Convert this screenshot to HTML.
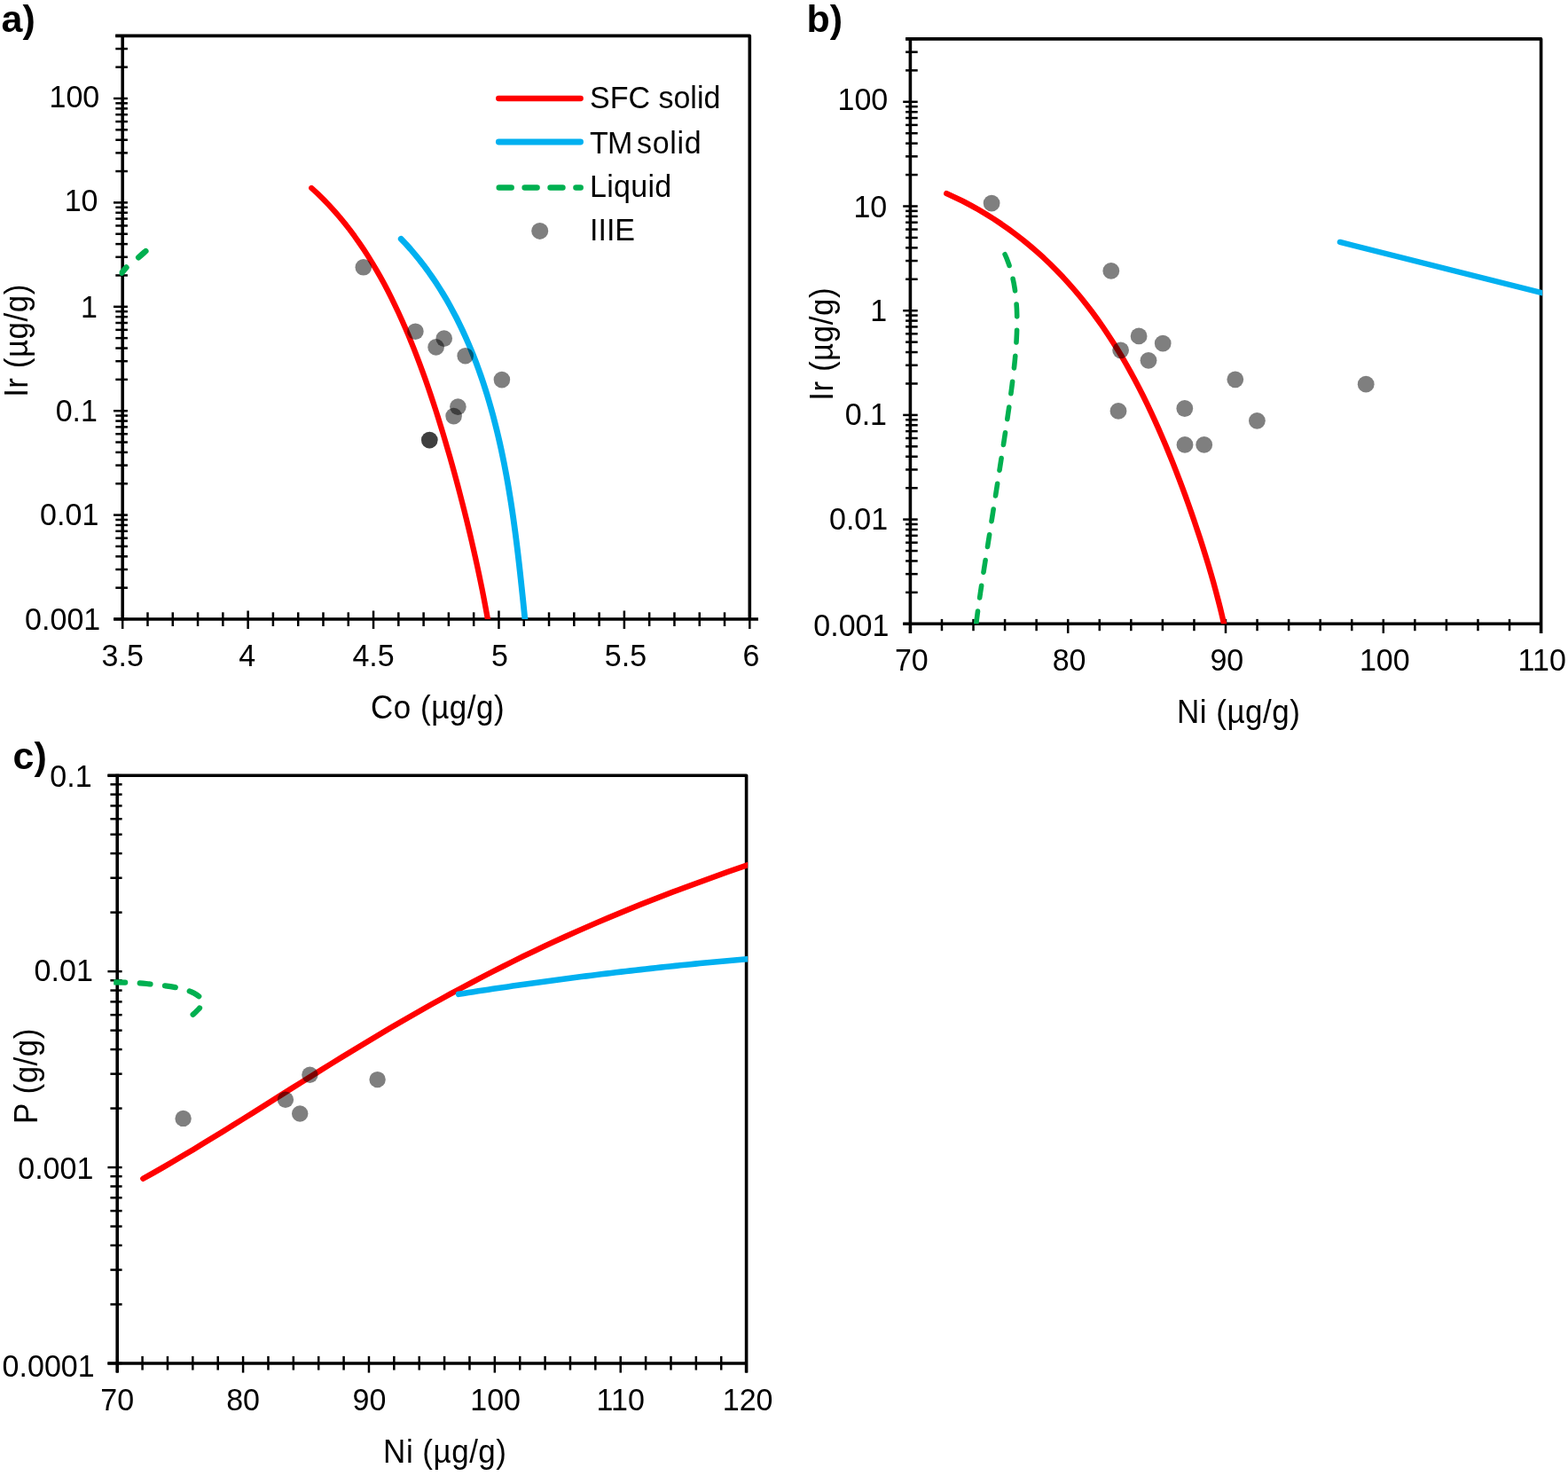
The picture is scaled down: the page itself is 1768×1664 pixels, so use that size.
<!DOCTYPE html><html><head><meta charset="utf-8"><title>Figure</title><style>html,body{margin:0;padding:0;background:#fff;}svg{display:block;}</style></head><body>
<svg width="1768" height="1664" viewBox="0 0 1768 1664" font-family='"Liberation Sans", sans-serif' fill="#000">
<rect width="1768" height="1664" fill="#fff"/>
<defs><clipPath id="ca"><rect x="134.6" y="40.4" width="712.1" height="657.6"/></clipPath><clipPath id="cb"><rect x="1024.9" y="43.9" width="714.2" height="659.4"/></clipPath><clipPath id="cc"><rect x="128.2" y="874.2" width="714.9" height="662.8"/></clipPath></defs>
<text x="1.5" y="35.5" font-size="43" text-anchor="start" font-weight="bold">a)</text>
<text x="909.5" y="36" font-size="43" text-anchor="start" font-weight="bold">b)</text>
<text x="14.5" y="866.5" font-size="43" text-anchor="start" font-weight="bold">c)</text>
<path d="M130.2 40.4 H845.3 V698" fill="none" stroke="#000" stroke-width="3.6" stroke-linejoin="round"/>
<line x1="138.2" y1="38.9" x2="138.2" y2="699.5" stroke="#000" stroke-width="3.6"/>
<line x1="128.2" y1="698" x2="854.9" y2="698" stroke="#000" stroke-width="3.6"/>
<line x1="128" y1="698" x2="143.9" y2="698" stroke="#000" stroke-width="2.5"/>
<line x1="130.3" y1="662.66" x2="143.9" y2="662.66" stroke="#000" stroke-width="2.5"/>
<line x1="130.3" y1="641.99" x2="143.9" y2="641.99" stroke="#000" stroke-width="2.5"/>
<line x1="130.3" y1="627.32" x2="143.9" y2="627.32" stroke="#000" stroke-width="2.5"/>
<line x1="130.3" y1="615.94" x2="143.9" y2="615.94" stroke="#000" stroke-width="2.5"/>
<line x1="130.3" y1="606.65" x2="143.9" y2="606.65" stroke="#000" stroke-width="2.5"/>
<line x1="130.3" y1="598.79" x2="143.9" y2="598.79" stroke="#000" stroke-width="2.5"/>
<line x1="130.3" y1="591.98" x2="143.9" y2="591.98" stroke="#000" stroke-width="2.5"/>
<line x1="130.3" y1="585.97" x2="143.9" y2="585.97" stroke="#000" stroke-width="2.5"/>
<line x1="128" y1="580.6" x2="143.9" y2="580.6" stroke="#000" stroke-width="2.5"/>
<line x1="130.3" y1="545.26" x2="143.9" y2="545.26" stroke="#000" stroke-width="2.5"/>
<line x1="130.3" y1="524.59" x2="143.9" y2="524.59" stroke="#000" stroke-width="2.5"/>
<line x1="130.3" y1="509.92" x2="143.9" y2="509.92" stroke="#000" stroke-width="2.5"/>
<line x1="130.3" y1="498.54" x2="143.9" y2="498.54" stroke="#000" stroke-width="2.5"/>
<line x1="130.3" y1="489.25" x2="143.9" y2="489.25" stroke="#000" stroke-width="2.5"/>
<line x1="130.3" y1="481.39" x2="143.9" y2="481.39" stroke="#000" stroke-width="2.5"/>
<line x1="130.3" y1="474.58" x2="143.9" y2="474.58" stroke="#000" stroke-width="2.5"/>
<line x1="130.3" y1="468.57" x2="143.9" y2="468.57" stroke="#000" stroke-width="2.5"/>
<line x1="128" y1="463.2" x2="143.9" y2="463.2" stroke="#000" stroke-width="2.5"/>
<line x1="130.3" y1="427.86" x2="143.9" y2="427.86" stroke="#000" stroke-width="2.5"/>
<line x1="130.3" y1="407.19" x2="143.9" y2="407.19" stroke="#000" stroke-width="2.5"/>
<line x1="130.3" y1="392.52" x2="143.9" y2="392.52" stroke="#000" stroke-width="2.5"/>
<line x1="130.3" y1="381.14" x2="143.9" y2="381.14" stroke="#000" stroke-width="2.5"/>
<line x1="130.3" y1="371.85" x2="143.9" y2="371.85" stroke="#000" stroke-width="2.5"/>
<line x1="130.3" y1="363.99" x2="143.9" y2="363.99" stroke="#000" stroke-width="2.5"/>
<line x1="130.3" y1="357.18" x2="143.9" y2="357.18" stroke="#000" stroke-width="2.5"/>
<line x1="130.3" y1="351.17" x2="143.9" y2="351.17" stroke="#000" stroke-width="2.5"/>
<line x1="128" y1="345.8" x2="143.9" y2="345.8" stroke="#000" stroke-width="2.5"/>
<line x1="130.3" y1="310.46" x2="143.9" y2="310.46" stroke="#000" stroke-width="2.5"/>
<line x1="130.3" y1="289.79" x2="143.9" y2="289.79" stroke="#000" stroke-width="2.5"/>
<line x1="130.3" y1="275.12" x2="143.9" y2="275.12" stroke="#000" stroke-width="2.5"/>
<line x1="130.3" y1="263.74" x2="143.9" y2="263.74" stroke="#000" stroke-width="2.5"/>
<line x1="130.3" y1="254.45" x2="143.9" y2="254.45" stroke="#000" stroke-width="2.5"/>
<line x1="130.3" y1="246.59" x2="143.9" y2="246.59" stroke="#000" stroke-width="2.5"/>
<line x1="130.3" y1="239.78" x2="143.9" y2="239.78" stroke="#000" stroke-width="2.5"/>
<line x1="130.3" y1="233.77" x2="143.9" y2="233.77" stroke="#000" stroke-width="2.5"/>
<line x1="128" y1="228.4" x2="143.9" y2="228.4" stroke="#000" stroke-width="2.5"/>
<line x1="130.3" y1="193.06" x2="143.9" y2="193.06" stroke="#000" stroke-width="2.5"/>
<line x1="130.3" y1="172.39" x2="143.9" y2="172.39" stroke="#000" stroke-width="2.5"/>
<line x1="130.3" y1="157.72" x2="143.9" y2="157.72" stroke="#000" stroke-width="2.5"/>
<line x1="130.3" y1="146.34" x2="143.9" y2="146.34" stroke="#000" stroke-width="2.5"/>
<line x1="130.3" y1="137.05" x2="143.9" y2="137.05" stroke="#000" stroke-width="2.5"/>
<line x1="130.3" y1="129.19" x2="143.9" y2="129.19" stroke="#000" stroke-width="2.5"/>
<line x1="130.3" y1="122.38" x2="143.9" y2="122.38" stroke="#000" stroke-width="2.5"/>
<line x1="130.3" y1="116.37" x2="143.9" y2="116.37" stroke="#000" stroke-width="2.5"/>
<line x1="128" y1="111" x2="143.9" y2="111" stroke="#000" stroke-width="2.5"/>
<line x1="130.3" y1="75.66" x2="143.9" y2="75.66" stroke="#000" stroke-width="2.5"/>
<line x1="130.3" y1="54.99" x2="143.9" y2="54.99" stroke="#000" stroke-width="2.5"/>
<line x1="130.3" y1="40.32" x2="143.9" y2="40.32" stroke="#000" stroke-width="2.5"/>
<text transform="translate(112.2 120.8) scale(1 1.035)" font-size="34" text-anchor="end">100</text>
<text transform="translate(110.5 237.9) scale(1 1.035)" font-size="34" text-anchor="end">10</text>
<text transform="translate(109.9 357.9) scale(1 1.035)" font-size="34" text-anchor="end">1</text>
<text transform="translate(109.9 474.8) scale(1 1.035)" font-size="34" text-anchor="end">0.1</text>
<text transform="translate(111.3 592) scale(1 1.035)" font-size="34" text-anchor="end">0.01</text>
<text transform="translate(113.2 709.75) scale(1 1.035)" font-size="34" text-anchor="end">0.001</text>
<line x1="138.2" y1="688.5" x2="138.2" y2="709" stroke="#000" stroke-width="2.5"/>
<line x1="279.62" y1="688.5" x2="279.62" y2="709" stroke="#000" stroke-width="2.5"/>
<line x1="421.04" y1="688.5" x2="421.04" y2="709" stroke="#000" stroke-width="2.5"/>
<line x1="562.46" y1="688.5" x2="562.46" y2="709" stroke="#000" stroke-width="2.5"/>
<line x1="703.88" y1="688.5" x2="703.88" y2="709" stroke="#000" stroke-width="2.5"/>
<line x1="845.3" y1="688.5" x2="845.3" y2="709" stroke="#000" stroke-width="2.5"/>
<line x1="166.48" y1="690.3" x2="166.48" y2="706" stroke="#000" stroke-width="2.5"/>
<line x1="194.77" y1="690.3" x2="194.77" y2="706" stroke="#000" stroke-width="2.5"/>
<line x1="223.05" y1="690.3" x2="223.05" y2="706" stroke="#000" stroke-width="2.5"/>
<line x1="251.34" y1="690.3" x2="251.34" y2="706" stroke="#000" stroke-width="2.5"/>
<line x1="307.9" y1="690.3" x2="307.9" y2="706" stroke="#000" stroke-width="2.5"/>
<line x1="336.19" y1="690.3" x2="336.19" y2="706" stroke="#000" stroke-width="2.5"/>
<line x1="364.47" y1="690.3" x2="364.47" y2="706" stroke="#000" stroke-width="2.5"/>
<line x1="392.76" y1="690.3" x2="392.76" y2="706" stroke="#000" stroke-width="2.5"/>
<line x1="449.32" y1="690.3" x2="449.32" y2="706" stroke="#000" stroke-width="2.5"/>
<line x1="477.61" y1="690.3" x2="477.61" y2="706" stroke="#000" stroke-width="2.5"/>
<line x1="505.89" y1="690.3" x2="505.89" y2="706" stroke="#000" stroke-width="2.5"/>
<line x1="534.18" y1="690.3" x2="534.18" y2="706" stroke="#000" stroke-width="2.5"/>
<line x1="590.74" y1="690.3" x2="590.74" y2="706" stroke="#000" stroke-width="2.5"/>
<line x1="619.03" y1="690.3" x2="619.03" y2="706" stroke="#000" stroke-width="2.5"/>
<line x1="647.31" y1="690.3" x2="647.31" y2="706" stroke="#000" stroke-width="2.5"/>
<line x1="675.6" y1="690.3" x2="675.6" y2="706" stroke="#000" stroke-width="2.5"/>
<line x1="732.16" y1="690.3" x2="732.16" y2="706" stroke="#000" stroke-width="2.5"/>
<line x1="760.45" y1="690.3" x2="760.45" y2="706" stroke="#000" stroke-width="2.5"/>
<line x1="788.73" y1="690.3" x2="788.73" y2="706" stroke="#000" stroke-width="2.5"/>
<line x1="817.02" y1="690.3" x2="817.02" y2="706" stroke="#000" stroke-width="2.5"/>
<text transform="translate(138.2 751) scale(1 1.035)" font-size="34" text-anchor="middle">3.5</text>
<text transform="translate(278.72 751) scale(1 1.035)" font-size="34" text-anchor="middle">4</text>
<text transform="translate(421.04 751) scale(1 1.035)" font-size="34" text-anchor="middle">4.5</text>
<text transform="translate(563.36 751) scale(1 1.035)" font-size="34" text-anchor="middle">5</text>
<text transform="translate(705.48 751) scale(1 1.035)" font-size="34" text-anchor="middle">5.5</text>
<text transform="translate(846.9 751) scale(1 1.035)" font-size="34" text-anchor="middle">6</text>
<text transform="translate(493.6 809.8) scale(1 1.035)" font-size="35" text-anchor="middle" letter-spacing="0.5">Co (µg/g)</text>
<text x="0" y="0" font-size="35" text-anchor="middle" letter-spacing="0.5" transform="translate(30.8 384.0) rotate(-90) scale(1 1.035)">Ir (µg/g)</text>
<g clip-path="url(#ca)">
<path d="M351.27 211.97 L358.09 218.28 L364.68 224.74 L371.05 231.36 L377.21 238.11 L383.17 245.01 L388.93 252.04 L394.51 259.18 L399.9 266.45 L405.12 273.83 L410.18 281.31 L415.08 288.89 L419.82 296.57 L424.42 304.33 L428.88 312.17 L433.21 320.1 L437.41 328.09 L441.48 336.16 L445.45 344.29 L449.3 352.47 L453.04 360.71 L456.69 369.01 L460.24 377.35 L463.7 385.73 L467.07 394.15 L470.36 402.61 L473.57 411.11 L476.7 419.63 L479.77 428.18 L482.76 436.76 L485.69 445.36 L488.57 453.98 L491.38 462.62 L494.13 471.27 L496.84 479.94 L499.49 488.63 L502.09 497.32 L504.64 506.03 L507.15 514.74 L509.62 523.46 L512.04 532.2 L514.42 540.94 L516.76 549.68 L519.06 558.44 L521.32 567.2 L523.55 575.97 L525.73 584.74 L527.87 593.53 L529.98 602.32 L532.04 611.13 L534.07 619.94 L536.05 628.77 L538 637.61 L539.9 646.47 L541.75 655.35 L543.56 664.24 L545.32 673.16 L547.03 682.1 L548.69 691.07 L550.3 700.07" fill="none" stroke="#FF0000" stroke-width="6.3" stroke-linecap="round" stroke-linejoin="round"/>
<path d="M452.22 269.31 L457.62 275.03 L462.86 280.88 L467.95 286.84 L472.9 292.91 L477.7 299.08 L482.36 305.36 L486.87 311.74 L491.25 318.2 L495.5 324.75 L499.61 331.39 L503.6 338.11 L507.45 344.9 L511.18 351.76 L514.79 358.69 L518.27 365.68 L521.64 372.73 L524.9 379.84 L528.04 387.01 L531.07 394.22 L534 401.48 L536.82 408.78 L539.53 416.12 L542.15 423.51 L544.67 430.92 L547.1 438.37 L549.43 445.85 L551.67 453.36 L553.83 460.89 L555.91 468.45 L557.9 476.03 L559.81 483.63 L561.64 491.24 L563.41 498.88 L565.1 506.52 L566.72 514.18 L568.28 521.85 L569.77 529.53 L571.2 537.22 L572.58 544.92 L573.9 552.63 L575.16 560.34 L576.38 568.06 L577.55 575.78 L578.68 583.51 L579.76 591.25 L580.81 598.98 L581.82 606.73 L582.79 614.47 L583.74 622.22 L584.65 629.98 L585.54 637.74 L586.41 645.5 L587.26 653.27 L588.09 661.05 L588.91 668.83 L589.72 676.62 L590.51 684.43 L591.3 692.24 L592.09 700.06" fill="none" stroke="#00B0F0" stroke-width="6.8" stroke-linecap="round" stroke-linejoin="round"/>
<path d="M164.3 283.1 C162.95 284.28 159.08 287.88 156.2 290.2 C153.32 292.52 149.7 294.65 147 297 C144.3 299.35 142.5 301.47 140 304.3 C137.5 307.13 133.33 312.38 132 314" fill="none" stroke="#00B050" stroke-width="6.5" stroke-linecap="round" stroke-linejoin="round" stroke-dasharray="10.8 18 8 60"/>
</g>
<circle cx="409.8" cy="301.3" r="9.3" fill="#000" fill-opacity="0.5"/>
<circle cx="468.4" cy="373.7" r="9.3" fill="#000" fill-opacity="0.5"/>
<circle cx="500.7" cy="381.6" r="9.3" fill="#000" fill-opacity="0.5"/>
<circle cx="491.6" cy="391.4" r="9.3" fill="#000" fill-opacity="0.5"/>
<circle cx="524.7" cy="401.2" r="9.3" fill="#000" fill-opacity="0.5"/>
<circle cx="565.9" cy="428.1" r="9.3" fill="#000" fill-opacity="0.5"/>
<circle cx="516.4" cy="458.6" r="9.3" fill="#000" fill-opacity="0.5"/>
<circle cx="511.6" cy="469.1" r="9.3" fill="#000" fill-opacity="0.5"/>
<circle cx="484.3" cy="496.1" r="9.3" fill="#000" fill-opacity="0.5"/>
<circle cx="484.3" cy="496.1" r="9.3" fill="#000" fill-opacity="0.5"/>
<line x1="562.2" y1="111" x2="654.7" y2="111" stroke="#FF0000" stroke-width="6.3" stroke-linecap="round"/>
<line x1="562.4" y1="160" x2="654.5" y2="160" stroke="#00B0F0" stroke-width="6.9" stroke-linecap="round"/>
<line x1="562.75" y1="211.5" x2="654.65" y2="211.5" stroke="#00B050" stroke-width="6.5" stroke-linecap="round" stroke-dasharray="13.9 15"/>
<circle cx="608.7" cy="260.4" r="9.5" fill="#000" fill-opacity="0.5"/>
<text transform="translate(665 122.4) scale(1 1.035)" font-size="34" text-anchor="start">SFC solid</text>
<text transform="translate(665 172.5) scale(1 1.035)" font-size="34" text-anchor="start" letter-spacing="-0.8">TM</text>
<text transform="translate(718 172.5) scale(1 1.035)" font-size="34" text-anchor="start" letter-spacing="0.7">solid</text>
<text transform="translate(665 221.7) scale(1 1.035)" font-size="34" text-anchor="start" letter-spacing="0.3">Liquid</text>
<text transform="translate(665 270.9) scale(1 1.035)" font-size="34" text-anchor="start">IIIE</text>
<path d="M1021.1 43.9 H1737.6 V713.9" fill="none" stroke="#000" stroke-width="3.6" stroke-linejoin="round"/>
<line x1="1026.4" y1="42.4" x2="1026.4" y2="713.9" stroke="#000" stroke-width="3.6"/>
<line x1="1018.2" y1="703.3" x2="1737.6" y2="703.3" stroke="#000" stroke-width="3.6"/>
<line x1="1018.2" y1="703.3" x2="1034.7" y2="703.3" stroke="#000" stroke-width="2.5"/>
<line x1="1021.1" y1="667.87" x2="1034.7" y2="667.87" stroke="#000" stroke-width="2.5"/>
<line x1="1021.1" y1="647.14" x2="1034.7" y2="647.14" stroke="#000" stroke-width="2.5"/>
<line x1="1021.1" y1="632.44" x2="1034.7" y2="632.44" stroke="#000" stroke-width="2.5"/>
<line x1="1021.1" y1="621.03" x2="1034.7" y2="621.03" stroke="#000" stroke-width="2.5"/>
<line x1="1021.1" y1="611.71" x2="1034.7" y2="611.71" stroke="#000" stroke-width="2.5"/>
<line x1="1021.1" y1="603.83" x2="1034.7" y2="603.83" stroke="#000" stroke-width="2.5"/>
<line x1="1021.1" y1="597.01" x2="1034.7" y2="597.01" stroke="#000" stroke-width="2.5"/>
<line x1="1021.1" y1="590.99" x2="1034.7" y2="590.99" stroke="#000" stroke-width="2.5"/>
<line x1="1018.2" y1="585.6" x2="1034.7" y2="585.6" stroke="#000" stroke-width="2.5"/>
<line x1="1021.1" y1="550.17" x2="1034.7" y2="550.17" stroke="#000" stroke-width="2.5"/>
<line x1="1021.1" y1="529.44" x2="1034.7" y2="529.44" stroke="#000" stroke-width="2.5"/>
<line x1="1021.1" y1="514.74" x2="1034.7" y2="514.74" stroke="#000" stroke-width="2.5"/>
<line x1="1021.1" y1="503.33" x2="1034.7" y2="503.33" stroke="#000" stroke-width="2.5"/>
<line x1="1021.1" y1="494.01" x2="1034.7" y2="494.01" stroke="#000" stroke-width="2.5"/>
<line x1="1021.1" y1="486.13" x2="1034.7" y2="486.13" stroke="#000" stroke-width="2.5"/>
<line x1="1021.1" y1="479.31" x2="1034.7" y2="479.31" stroke="#000" stroke-width="2.5"/>
<line x1="1021.1" y1="473.29" x2="1034.7" y2="473.29" stroke="#000" stroke-width="2.5"/>
<line x1="1018.2" y1="467.9" x2="1034.7" y2="467.9" stroke="#000" stroke-width="2.5"/>
<line x1="1021.1" y1="432.47" x2="1034.7" y2="432.47" stroke="#000" stroke-width="2.5"/>
<line x1="1021.1" y1="411.74" x2="1034.7" y2="411.74" stroke="#000" stroke-width="2.5"/>
<line x1="1021.1" y1="397.04" x2="1034.7" y2="397.04" stroke="#000" stroke-width="2.5"/>
<line x1="1021.1" y1="385.63" x2="1034.7" y2="385.63" stroke="#000" stroke-width="2.5"/>
<line x1="1021.1" y1="376.31" x2="1034.7" y2="376.31" stroke="#000" stroke-width="2.5"/>
<line x1="1021.1" y1="368.43" x2="1034.7" y2="368.43" stroke="#000" stroke-width="2.5"/>
<line x1="1021.1" y1="361.61" x2="1034.7" y2="361.61" stroke="#000" stroke-width="2.5"/>
<line x1="1021.1" y1="355.59" x2="1034.7" y2="355.59" stroke="#000" stroke-width="2.5"/>
<line x1="1018.2" y1="350.2" x2="1034.7" y2="350.2" stroke="#000" stroke-width="2.5"/>
<line x1="1021.1" y1="314.77" x2="1034.7" y2="314.77" stroke="#000" stroke-width="2.5"/>
<line x1="1021.1" y1="294.04" x2="1034.7" y2="294.04" stroke="#000" stroke-width="2.5"/>
<line x1="1021.1" y1="279.34" x2="1034.7" y2="279.34" stroke="#000" stroke-width="2.5"/>
<line x1="1021.1" y1="267.93" x2="1034.7" y2="267.93" stroke="#000" stroke-width="2.5"/>
<line x1="1021.1" y1="258.61" x2="1034.7" y2="258.61" stroke="#000" stroke-width="2.5"/>
<line x1="1021.1" y1="250.73" x2="1034.7" y2="250.73" stroke="#000" stroke-width="2.5"/>
<line x1="1021.1" y1="243.91" x2="1034.7" y2="243.91" stroke="#000" stroke-width="2.5"/>
<line x1="1021.1" y1="237.89" x2="1034.7" y2="237.89" stroke="#000" stroke-width="2.5"/>
<line x1="1018.2" y1="232.5" x2="1034.7" y2="232.5" stroke="#000" stroke-width="2.5"/>
<line x1="1021.1" y1="197.07" x2="1034.7" y2="197.07" stroke="#000" stroke-width="2.5"/>
<line x1="1021.1" y1="176.34" x2="1034.7" y2="176.34" stroke="#000" stroke-width="2.5"/>
<line x1="1021.1" y1="161.64" x2="1034.7" y2="161.64" stroke="#000" stroke-width="2.5"/>
<line x1="1021.1" y1="150.23" x2="1034.7" y2="150.23" stroke="#000" stroke-width="2.5"/>
<line x1="1021.1" y1="140.91" x2="1034.7" y2="140.91" stroke="#000" stroke-width="2.5"/>
<line x1="1021.1" y1="133.03" x2="1034.7" y2="133.03" stroke="#000" stroke-width="2.5"/>
<line x1="1021.1" y1="126.21" x2="1034.7" y2="126.21" stroke="#000" stroke-width="2.5"/>
<line x1="1021.1" y1="120.19" x2="1034.7" y2="120.19" stroke="#000" stroke-width="2.5"/>
<line x1="1018.2" y1="114.8" x2="1034.7" y2="114.8" stroke="#000" stroke-width="2.5"/>
<line x1="1021.1" y1="79.37" x2="1034.7" y2="79.37" stroke="#000" stroke-width="2.5"/>
<line x1="1021.1" y1="58.64" x2="1034.7" y2="58.64" stroke="#000" stroke-width="2.5"/>
<line x1="1021.1" y1="43.94" x2="1034.7" y2="43.94" stroke="#000" stroke-width="2.5"/>
<text transform="translate(1001.2 123.8) scale(1 1.035)" font-size="34" text-anchor="end">100</text>
<text transform="translate(1000.2 245) scale(1 1.035)" font-size="34" text-anchor="end">10</text>
<text transform="translate(1000.1 361.9) scale(1 1.035)" font-size="34" text-anchor="end">1</text>
<text transform="translate(1000 478.8) scale(1 1.035)" font-size="34" text-anchor="end">0.1</text>
<text transform="translate(1001.2 597.2) scale(1 1.035)" font-size="34" text-anchor="end">0.01</text>
<text transform="translate(1002.4 716.9) scale(1 1.035)" font-size="34" text-anchor="end">0.001</text>
<line x1="1026.4" y1="697.9" x2="1026.4" y2="713.9" stroke="#000" stroke-width="2.5"/>
<line x1="1204.2" y1="697.9" x2="1204.2" y2="713.9" stroke="#000" stroke-width="2.5"/>
<line x1="1382" y1="697.9" x2="1382" y2="713.9" stroke="#000" stroke-width="2.5"/>
<line x1="1559.8" y1="697.9" x2="1559.8" y2="713.9" stroke="#000" stroke-width="2.5"/>
<line x1="1737.6" y1="697.9" x2="1737.6" y2="713.9" stroke="#000" stroke-width="2.5"/>
<line x1="1061.96" y1="697.9" x2="1061.96" y2="711.2" stroke="#000" stroke-width="2.5"/>
<line x1="1097.52" y1="697.9" x2="1097.52" y2="711.2" stroke="#000" stroke-width="2.5"/>
<line x1="1133.08" y1="697.9" x2="1133.08" y2="711.2" stroke="#000" stroke-width="2.5"/>
<line x1="1168.64" y1="697.9" x2="1168.64" y2="711.2" stroke="#000" stroke-width="2.5"/>
<line x1="1239.76" y1="697.9" x2="1239.76" y2="711.2" stroke="#000" stroke-width="2.5"/>
<line x1="1275.32" y1="697.9" x2="1275.32" y2="711.2" stroke="#000" stroke-width="2.5"/>
<line x1="1310.88" y1="697.9" x2="1310.88" y2="711.2" stroke="#000" stroke-width="2.5"/>
<line x1="1346.44" y1="697.9" x2="1346.44" y2="711.2" stroke="#000" stroke-width="2.5"/>
<line x1="1417.56" y1="697.9" x2="1417.56" y2="711.2" stroke="#000" stroke-width="2.5"/>
<line x1="1453.12" y1="697.9" x2="1453.12" y2="711.2" stroke="#000" stroke-width="2.5"/>
<line x1="1488.68" y1="697.9" x2="1488.68" y2="711.2" stroke="#000" stroke-width="2.5"/>
<line x1="1524.24" y1="697.9" x2="1524.24" y2="711.2" stroke="#000" stroke-width="2.5"/>
<line x1="1595.36" y1="697.9" x2="1595.36" y2="711.2" stroke="#000" stroke-width="2.5"/>
<line x1="1630.92" y1="697.9" x2="1630.92" y2="711.2" stroke="#000" stroke-width="2.5"/>
<line x1="1666.48" y1="697.9" x2="1666.48" y2="711.2" stroke="#000" stroke-width="2.5"/>
<line x1="1702.04" y1="697.9" x2="1702.04" y2="711.2" stroke="#000" stroke-width="2.5"/>
<text transform="translate(1027.8 756) scale(1 1.035)" font-size="34" text-anchor="middle">70</text>
<text transform="translate(1205.6 756) scale(1 1.035)" font-size="34" text-anchor="middle">80</text>
<text transform="translate(1383.3 756) scale(1 1.035)" font-size="34" text-anchor="middle">90</text>
<text transform="translate(1561.3 756) scale(1 1.035)" font-size="34" text-anchor="middle">100</text>
<text transform="translate(1738.7 756) scale(1 1.035)" font-size="34" text-anchor="middle">110</text>
<text transform="translate(1396.7 814.9) scale(1 1.035)" font-size="35" text-anchor="middle" letter-spacing="0.5">Ni (µg/g)</text>
<text x="0" y="0" font-size="35" text-anchor="middle" letter-spacing="0.5" transform="translate(938.9 387.8) rotate(-90) scale(1 1.035)">Ir (µg/g)</text>
<g clip-path="url(#cb)">
<path d="M1067.26 218.18 L1076.35 222.31 L1085.38 226.71 L1094.33 231.37 L1103.18 236.29 L1111.92 241.46 L1120.54 246.87 L1129.03 252.51 L1137.38 258.37 L1145.59 264.45 L1153.64 270.73 L1161.53 277.21 L1169.26 283.89 L1176.82 290.74 L1184.21 297.77 L1191.43 304.97 L1198.47 312.33 L1205.34 319.85 L1212.04 327.51 L1218.56 335.31 L1224.91 343.24 L1231.1 351.3 L1237.12 359.48 L1242.97 367.78 L1248.67 376.18 L1254.21 384.68 L1259.6 393.28 L1264.84 401.96 L1269.95 410.74 L1274.91 419.59 L1279.75 428.51 L1284.46 437.51 L1289.05 446.57 L1293.52 455.69 L1297.89 464.87 L1302.15 474.1 L1306.31 483.37 L1310.38 492.7 L1314.35 502.06 L1318.25 511.46 L1322.06 520.9 L1325.79 530.37 L1329.45 539.87 L1333.04 549.4 L1336.55 558.95 L1340 568.53 L1343.39 578.13 L1346.71 587.76 L1349.96 597.4 L1353.14 607.07 L1356.26 616.76 L1359.3 626.46 L1362.27 636.19 L1365.15 645.94 L1367.96 655.71 L1370.66 665.5 L1373.27 675.32 L1375.78 685.16 L1378.16 695.03 L1380.41 704.93" fill="none" stroke="#FF0000" stroke-width="6.4" stroke-linecap="round" stroke-linejoin="round"/>
<path d="M1510.9 272.9 L1742 331" fill="none" stroke="#00B0F0" stroke-width="6.4" stroke-linecap="round" stroke-linejoin="round"/>
<path d="M1132.29 284.91 L1135.24 291.71 L1137.77 298.57 L1139.92 305.49 L1141.72 312.46 L1143.2 319.49 L1144.38 326.55 L1145.3 333.64 L1145.97 340.76 L1146.43 347.91 L1146.68 355.07 L1146.76 362.25 L1146.67 369.44 L1146.44 376.64 L1146.09 383.84 L1145.62 391.04 L1145.05 398.25 L1144.4 405.45 L1143.67 412.64 L1142.87 419.84 L1142.02 427.02 L1141.13 434.2 L1140.19 441.37 L1139.21 448.54 L1138.21 455.69 L1137.19 462.84 L1136.15 469.98 L1135.1 477.11 L1134.03 484.24 L1132.95 491.36 L1131.87 498.47 L1130.78 505.58 L1129.69 512.69 L1128.6 519.79 L1127.5 526.89 L1126.4 533.99 L1125.3 541.09 L1124.2 548.19 L1123.09 555.29 L1121.98 562.4 L1120.87 569.51 L1119.76 576.62 L1118.64 583.73 L1117.52 590.85 L1116.4 597.98 L1115.27 605.11 L1114.15 612.25 L1113.02 619.39 L1111.89 626.53 L1110.77 633.68 L1109.65 640.83 L1108.54 647.98 L1107.44 655.13 L1106.36 662.27 L1105.29 669.42 L1104.26 676.55 L1103.25 683.67 L1102.28 690.78 L1101.37 697.88 L1100.5 704.95" fill="none" stroke="#00B050" stroke-width="5.6" stroke-linecap="round" stroke-linejoin="round" stroke-dasharray="13.7 15.4" stroke-dashoffset="-2.0"/>
</g>
<circle cx="1118.1" cy="229.1" r="9.4" fill="#000" fill-opacity="0.5"/>
<circle cx="1252.8" cy="305.4" r="9.4" fill="#000" fill-opacity="0.5"/>
<circle cx="1284.1" cy="378.9" r="9.4" fill="#000" fill-opacity="0.5"/>
<circle cx="1311.2" cy="387.1" r="9.4" fill="#000" fill-opacity="0.5"/>
<circle cx="1263.6" cy="394.8" r="9.4" fill="#000" fill-opacity="0.5"/>
<circle cx="1295" cy="406.3" r="9.4" fill="#000" fill-opacity="0.5"/>
<circle cx="1392.8" cy="427.8" r="9.4" fill="#000" fill-opacity="0.5"/>
<circle cx="1261" cy="463.4" r="9.4" fill="#000" fill-opacity="0.5"/>
<circle cx="1335.8" cy="460.5" r="9.4" fill="#000" fill-opacity="0.5"/>
<circle cx="1417.4" cy="474.3" r="9.4" fill="#000" fill-opacity="0.5"/>
<circle cx="1336" cy="501.4" r="9.4" fill="#000" fill-opacity="0.5"/>
<circle cx="1357.7" cy="501.4" r="9.4" fill="#000" fill-opacity="0.5"/>
<circle cx="1540.2" cy="433.2" r="9.4" fill="#000" fill-opacity="0.5"/>
<path d="M121.4 874.2 H841.6 V1547.6" fill="none" stroke="#000" stroke-width="3.6" stroke-linejoin="round"/>
<line x1="132.2" y1="872.7" x2="132.2" y2="1547.6" stroke="#000" stroke-width="3.6"/>
<line x1="121.4" y1="1537" x2="841.6" y2="1537" stroke="#000" stroke-width="3.6"/>
<line x1="121.4" y1="1537" x2="137.6" y2="1537" stroke="#000" stroke-width="2.5"/>
<line x1="124.4" y1="1470.49" x2="137.6" y2="1470.49" stroke="#000" stroke-width="2.5"/>
<line x1="124.4" y1="1431.59" x2="137.6" y2="1431.59" stroke="#000" stroke-width="2.5"/>
<line x1="124.4" y1="1403.99" x2="137.6" y2="1403.99" stroke="#000" stroke-width="2.5"/>
<line x1="124.4" y1="1382.58" x2="137.6" y2="1382.58" stroke="#000" stroke-width="2.5"/>
<line x1="124.4" y1="1365.08" x2="137.6" y2="1365.08" stroke="#000" stroke-width="2.5"/>
<line x1="124.4" y1="1350.29" x2="137.6" y2="1350.29" stroke="#000" stroke-width="2.5"/>
<line x1="124.4" y1="1337.48" x2="137.6" y2="1337.48" stroke="#000" stroke-width="2.5"/>
<line x1="124.4" y1="1326.18" x2="137.6" y2="1326.18" stroke="#000" stroke-width="2.5"/>
<line x1="121.4" y1="1316.07" x2="137.6" y2="1316.07" stroke="#000" stroke-width="2.5"/>
<line x1="124.4" y1="1249.56" x2="137.6" y2="1249.56" stroke="#000" stroke-width="2.5"/>
<line x1="124.4" y1="1210.66" x2="137.6" y2="1210.66" stroke="#000" stroke-width="2.5"/>
<line x1="124.4" y1="1183.06" x2="137.6" y2="1183.06" stroke="#000" stroke-width="2.5"/>
<line x1="124.4" y1="1161.65" x2="137.6" y2="1161.65" stroke="#000" stroke-width="2.5"/>
<line x1="124.4" y1="1144.15" x2="137.6" y2="1144.15" stroke="#000" stroke-width="2.5"/>
<line x1="124.4" y1="1129.36" x2="137.6" y2="1129.36" stroke="#000" stroke-width="2.5"/>
<line x1="124.4" y1="1116.55" x2="137.6" y2="1116.55" stroke="#000" stroke-width="2.5"/>
<line x1="124.4" y1="1105.25" x2="137.6" y2="1105.25" stroke="#000" stroke-width="2.5"/>
<line x1="121.4" y1="1095.14" x2="137.6" y2="1095.14" stroke="#000" stroke-width="2.5"/>
<line x1="124.4" y1="1028.63" x2="137.6" y2="1028.63" stroke="#000" stroke-width="2.5"/>
<line x1="124.4" y1="989.73" x2="137.6" y2="989.73" stroke="#000" stroke-width="2.5"/>
<line x1="124.4" y1="962.13" x2="137.6" y2="962.13" stroke="#000" stroke-width="2.5"/>
<line x1="124.4" y1="940.72" x2="137.6" y2="940.72" stroke="#000" stroke-width="2.5"/>
<line x1="124.4" y1="923.22" x2="137.6" y2="923.22" stroke="#000" stroke-width="2.5"/>
<line x1="124.4" y1="908.43" x2="137.6" y2="908.43" stroke="#000" stroke-width="2.5"/>
<line x1="124.4" y1="895.62" x2="137.6" y2="895.62" stroke="#000" stroke-width="2.5"/>
<line x1="124.4" y1="884.32" x2="137.6" y2="884.32" stroke="#000" stroke-width="2.5"/>
<line x1="121.4" y1="874.21" x2="137.6" y2="874.21" stroke="#000" stroke-width="2.5"/>
<text transform="translate(103.6 886.75) scale(1 1.035)" font-size="34" text-anchor="end">0.1</text>
<text transform="translate(104.8 1106) scale(1 1.035)" font-size="34" text-anchor="end">0.01</text>
<text transform="translate(105.3 1328.7) scale(1 1.035)" font-size="34" text-anchor="end">0.001</text>
<text transform="translate(106.6 1552) scale(1 1.035)" font-size="34" text-anchor="end">0.0001</text>
<line x1="132.2" y1="1528.9" x2="132.2" y2="1547.6" stroke="#000" stroke-width="2.5"/>
<line x1="274.08" y1="1528.9" x2="274.08" y2="1547.6" stroke="#000" stroke-width="2.5"/>
<line x1="415.96" y1="1528.9" x2="415.96" y2="1547.6" stroke="#000" stroke-width="2.5"/>
<line x1="557.84" y1="1528.9" x2="557.84" y2="1547.6" stroke="#000" stroke-width="2.5"/>
<line x1="699.72" y1="1528.9" x2="699.72" y2="1547.6" stroke="#000" stroke-width="2.5"/>
<line x1="841.6" y1="1528.9" x2="841.6" y2="1547.6" stroke="#000" stroke-width="2.5"/>
<line x1="160.58" y1="1528.9" x2="160.58" y2="1544.6" stroke="#000" stroke-width="2.5"/>
<line x1="188.95" y1="1528.9" x2="188.95" y2="1544.6" stroke="#000" stroke-width="2.5"/>
<line x1="217.33" y1="1528.9" x2="217.33" y2="1544.6" stroke="#000" stroke-width="2.5"/>
<line x1="245.7" y1="1528.9" x2="245.7" y2="1544.6" stroke="#000" stroke-width="2.5"/>
<line x1="302.46" y1="1528.9" x2="302.46" y2="1544.6" stroke="#000" stroke-width="2.5"/>
<line x1="330.83" y1="1528.9" x2="330.83" y2="1544.6" stroke="#000" stroke-width="2.5"/>
<line x1="359.21" y1="1528.9" x2="359.21" y2="1544.6" stroke="#000" stroke-width="2.5"/>
<line x1="387.58" y1="1528.9" x2="387.58" y2="1544.6" stroke="#000" stroke-width="2.5"/>
<line x1="444.34" y1="1528.9" x2="444.34" y2="1544.6" stroke="#000" stroke-width="2.5"/>
<line x1="472.71" y1="1528.9" x2="472.71" y2="1544.6" stroke="#000" stroke-width="2.5"/>
<line x1="501.09" y1="1528.9" x2="501.09" y2="1544.6" stroke="#000" stroke-width="2.5"/>
<line x1="529.46" y1="1528.9" x2="529.46" y2="1544.6" stroke="#000" stroke-width="2.5"/>
<line x1="586.22" y1="1528.9" x2="586.22" y2="1544.6" stroke="#000" stroke-width="2.5"/>
<line x1="614.59" y1="1528.9" x2="614.59" y2="1544.6" stroke="#000" stroke-width="2.5"/>
<line x1="642.97" y1="1528.9" x2="642.97" y2="1544.6" stroke="#000" stroke-width="2.5"/>
<line x1="671.34" y1="1528.9" x2="671.34" y2="1544.6" stroke="#000" stroke-width="2.5"/>
<line x1="728.1" y1="1528.9" x2="728.1" y2="1544.6" stroke="#000" stroke-width="2.5"/>
<line x1="756.47" y1="1528.9" x2="756.47" y2="1544.6" stroke="#000" stroke-width="2.5"/>
<line x1="784.85" y1="1528.9" x2="784.85" y2="1544.6" stroke="#000" stroke-width="2.5"/>
<line x1="813.22" y1="1528.9" x2="813.22" y2="1544.6" stroke="#000" stroke-width="2.5"/>
<text transform="translate(132.2 1589.6) scale(1 1.035)" font-size="34" text-anchor="middle">70</text>
<text transform="translate(274.08 1589.6) scale(1 1.035)" font-size="34" text-anchor="middle">80</text>
<text transform="translate(416.46 1589.6) scale(1 1.035)" font-size="34" text-anchor="middle">90</text>
<text transform="translate(558.64 1589.6) scale(1 1.035)" font-size="34" text-anchor="middle">100</text>
<text transform="translate(699.72 1589.6) scale(1 1.035)" font-size="34" text-anchor="middle">110</text>
<text transform="translate(843.1 1589.6) scale(1 1.035)" font-size="34" text-anchor="middle">120</text>
<text transform="translate(501.8 1649.4) scale(1 1.035)" font-size="35" text-anchor="middle" letter-spacing="0.5">Ni (µg/g)</text>
<text x="0" y="0" font-size="35" text-anchor="middle" letter-spacing="0.5" transform="translate(42.3 1213.0) rotate(-90) scale(1 1.035)">P (g/g)</text>
<g clip-path="url(#cc)">
<path d="M161.35 1328.78 L172.79 1322.36 L184.18 1315.85 L195.51 1309.26 L206.8 1302.6 L218.04 1295.89 L229.25 1289.11 L240.43 1282.29 L251.58 1275.43 L262.7 1268.53 L273.81 1261.61 L284.9 1254.67 L295.99 1247.71 L307.06 1240.75 L318.14 1233.79 L329.22 1226.83 L340.3 1219.88 L351.39 1212.94 L362.49 1206.03 L373.6 1199.14 L384.74 1192.28 L395.89 1185.46 L407.06 1178.67 L418.26 1171.92 L429.49 1165.23 L440.74 1158.58 L452.03 1151.99 L463.35 1145.45 L474.7 1138.97 L486.09 1132.56 L497.52 1126.21 L508.98 1119.92 L520.48 1113.71 L532.02 1107.57 L543.61 1101.5 L555.23 1095.51 L566.89 1089.59 L578.6 1083.75 L590.35 1077.99 L602.14 1072.31 L613.97 1066.71 L625.84 1061.18 L637.75 1055.74 L649.7 1050.38 L661.68 1045.09 L673.71 1039.89 L685.77 1034.76 L697.86 1029.71 L709.99 1024.74 L722.15 1019.84 L734.34 1015.01 L746.55 1010.25 L758.8 1005.56 L771.06 1000.94 L783.34 996.39 L795.64 991.89 L807.96 987.46 L820.29 983.08 L832.63 978.75 L844.97 974.47" fill="none" stroke="#FF0000" stroke-width="6.4" stroke-linecap="round" stroke-linejoin="round"/>
<path d="M517.1 1120.8 L522.63 1119.93 L528.17 1119.07 L533.7 1118.21 L539.24 1117.36 L544.78 1116.52 L550.31 1115.68 L555.85 1114.85 L561.39 1114.03 L566.93 1113.21 L572.47 1112.4 L578.01 1111.6 L583.56 1110.8 L589.1 1110.01 L594.64 1109.23 L600.19 1108.46 L605.74 1107.69 L611.28 1106.93 L616.83 1106.17 L622.38 1105.42 L627.93 1104.68 L633.48 1103.94 L639.03 1103.22 L644.58 1102.49 L650.13 1101.78 L655.69 1101.07 L661.24 1100.37 L666.8 1099.67 L672.35 1098.99 L677.91 1098.3 L683.47 1097.63 L689.02 1096.96 L694.58 1096.3 L700.14 1095.65 L705.71 1095 L711.27 1094.36 L716.83 1093.72 L722.39 1093.1 L727.96 1092.48 L733.52 1091.86 L739.09 1091.26 L744.66 1090.65 L750.22 1090.06 L755.79 1089.47 L761.36 1088.89 L766.93 1088.32 L772.5 1087.75 L778.07 1087.19 L783.65 1086.64 L789.22 1086.09 L794.79 1085.55 L800.37 1085.02 L805.94 1084.5 L811.52 1083.98 L817.1 1083.46 L822.68 1082.96 L828.26 1082.46 L833.84 1081.96 L839.42 1081.48 L845 1081" fill="none" stroke="#00B0F0" stroke-width="6.6" stroke-linecap="round" stroke-linejoin="round"/>
<path d="M217 1144.4 C218.1 1143.33 222 1139.7 223.6 1138 C225.2 1136.3 225.88 1135.43 226.6 1134.2 C227.32 1132.97 227.75 1131.73 227.9 1130.6 C228.05 1129.47 227.88 1128.4 227.5 1127.4 C227.12 1126.4 226.52 1125.57 225.6 1124.6 C224.68 1123.63 223.67 1122.67 222 1121.6 C220.33 1120.53 217.93 1119.23 215.6 1118.2 C213.27 1117.17 210.97 1116.25 208 1115.4 C205.03 1114.55 201.42 1113.78 197.8 1113.1 C194.18 1112.42 191.18 1111.92 186.3 1111.3 C181.42 1110.68 173.25 1109.88 168.5 1109.4 C163.75 1108.92 162.55 1108.7 157.8 1108.4 C153.05 1108.1 145.47 1107.78 140 1107.6 C134.53 1107.42 127.5 1107.35 125 1107.3" fill="none" stroke="#00B050" stroke-width="6.2" stroke-linecap="round" stroke-linejoin="round" stroke-dasharray="10 15.4 12 16.4 12 16.4 12 16.4 12 16.4" stroke-dashoffset="-1.2"/>
</g>
<circle cx="206.6" cy="1260.9" r="9.2" fill="#000" fill-opacity="0.5"/>
<circle cx="321.9" cy="1239.7" r="9.2" fill="#000" fill-opacity="0.5"/>
<circle cx="349.4" cy="1211.7" r="9.2" fill="#000" fill-opacity="0.5"/>
<circle cx="338.2" cy="1255.5" r="9.2" fill="#000" fill-opacity="0.5"/>
<circle cx="425.6" cy="1217.1" r="9.2" fill="#000" fill-opacity="0.5"/>
</svg></body></html>
